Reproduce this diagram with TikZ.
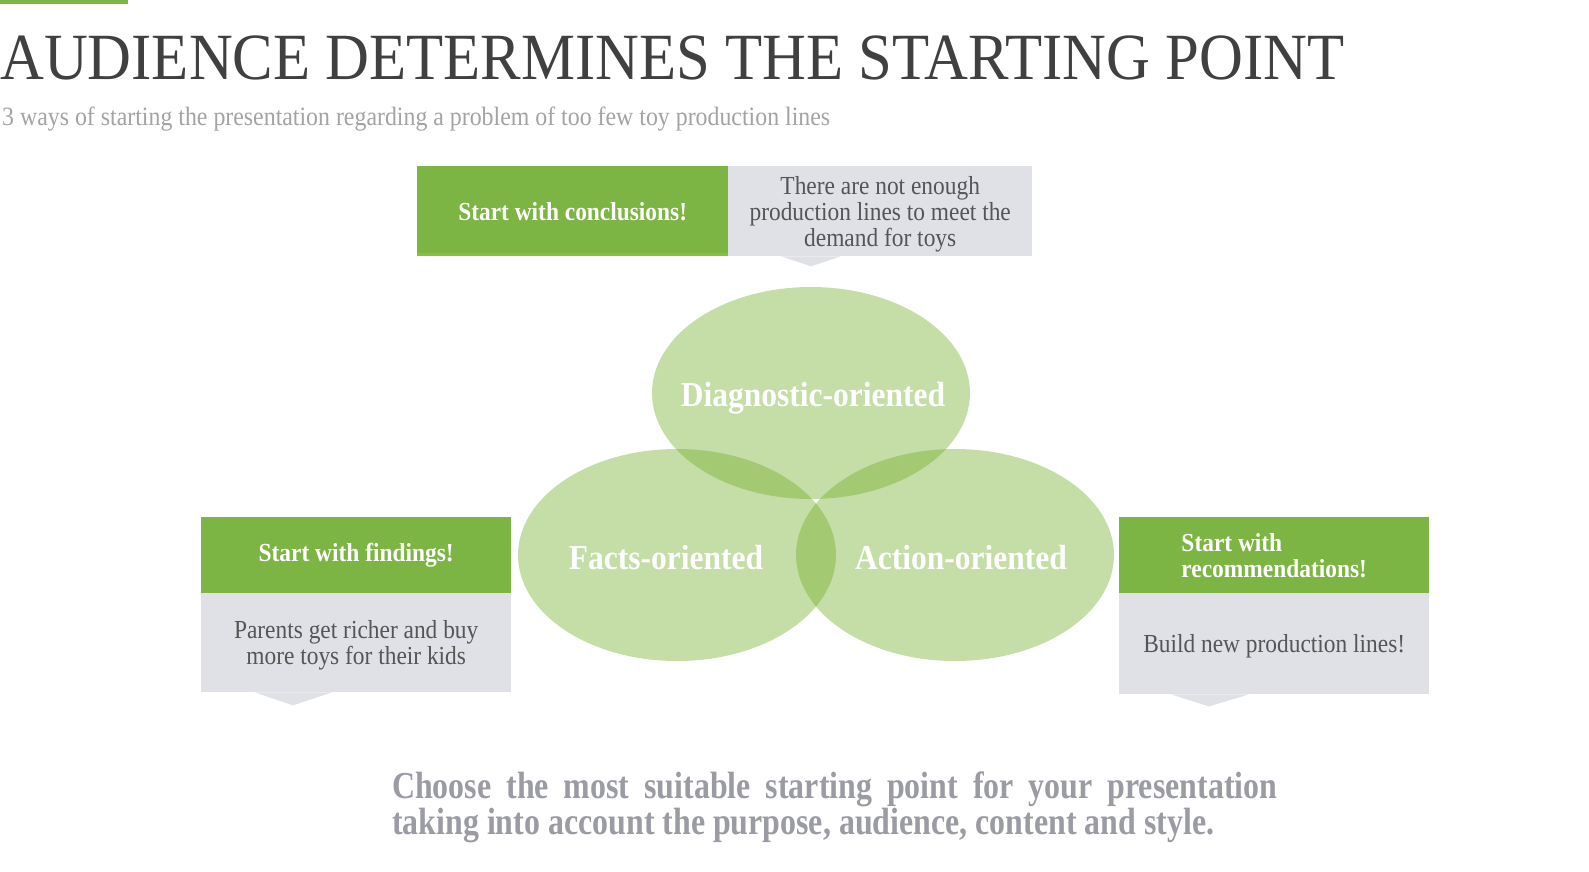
\documentclass[tikz,border=0pt]{standalone}
\usepackage{fontspec}
\setmainfont{Liberation Serif}[FakeStretch=0.9]
\newfontfamily\titlefont{Liberation Serif}[FakeStretch=0.92]
\newfontfamily\notefont{Liberation Serif}[FakeStretch=0.84]
\usetikzlibrary{shapes.geometric,calc}

\definecolor{leaf}{HTML}{7DB544}
\definecolor{leafedge}{HTML}{84C236}
\definecolor{venngreen}{RGB}{116,175,43}
\definecolor{panel}{HTML}{DFE1E7}
\definecolor{titlegray}{HTML}{404040}
\definecolor{subgray}{HTML}{A3A3A3}
\definecolor{bodygray}{HTML}{555555}
\definecolor{notegray}{HTML}{9A9BA3}

\begin{document}
\begin{tikzpicture}[x=1pt,y=-1pt,
  headbox/.style={fill=leaf, text=white, inner sep=0pt, align=center,
    font=\fontsize{26}{26}\selectfont\bfseries},
  bodybox/.style={fill=panel, inner sep=0pt},
  bodytext/.style={text=bodygray, inner sep=0pt, align=center, yshift=-3pt,
    font=\fontsize{26}{26}\selectfont},
  vennset/.style={ellipse, fill=venngreen, fill opacity=0.42, inner sep=0pt,
    minimum width=318, minimum height=212},
  venntext/.style={text=white, inner sep=0pt,
    font=\fontsize{35}{35}\selectfont\bfseries}]
\useasboundingbox (0,0) rectangle (1589,871);

% accent bar and headings
\fill[leaf] (0,0) rectangle (128,4);
\node[anchor=base west, inner sep=0pt, text=titlegray,
  font=\titlefont\fontsize{66}{66}\selectfont] (title) at (0,79)
  {AUDIENCE DETERMINES THE STARTING POINT};
\node[anchor=base west, inner sep=0pt, text=subgray,
  font=\fontsize{26.5}{26.5}\selectfont] (subtitle) at (2,125)
  {3 ways of starting the presentation regarding a problem of too few toy production lines};

% top callout: conclusions
\node[headbox, anchor=north west, minimum width=311, minimum height=90]
  (conhead) at (417,166) {Start with conclusions!};
\draw[leafedge, line width=3pt] ($(conhead.south west)+(0,-1.5)$) -- ($(conhead.south east)+(0,-1.5)$);
\node[bodybox, anchor=north west, minimum width=304, minimum height=90]
  (conbody) at (728,166) {};
\node[bodytext] (context) at (conbody.center)
  {There are not enough\\production lines to meet the\\demand for toys};
\fill[panel] ($(conbody.south west)+(53,0)$) -- ($(conbody.south west)+(113,0)$)
  -- ($(conbody.south west)+(83,10)$) -- cycle;

% three overlapping sets
\node[vennset] (diag) at (811,393) {};
\node[vennset] (facts) at (677,555) {};
\node[vennset] (action) at (955,555) {};
\node[venntext] (diaglabel) at (813,398) {Diagnostic-oriented};
\node[venntext] (factslabel) at (666,558) {Facts-oriented};
\node[venntext] (actionlabel) at (961,558) {Action-oriented};

% left callout: findings
\node[headbox, anchor=north west, minimum width=310, minimum height=76]
  (findhead) at (201,517) {Start with findings!};
\node[bodybox, anchor=north west, minimum width=310, minimum height=99]
  (findbody) at (201,593) {};
\node[bodytext] (findtext) at (findbody.center)
  {Parents get richer and buy\\more toys for their kids};
\fill[panel] ($(findbody.south west)+(54,0)$) -- ($(findbody.south west)+(131,0)$)
  -- ($(findbody.south west)+(92,13)$) -- cycle;

% right callout: recommendations
\node[headbox, anchor=north west, minimum width=310, minimum height=76, align=left]
  (rechead) at (1119,517) {Start with\\recommendations!};
\node[bodybox, anchor=north west, minimum width=310, minimum height=101]
  (recbody) at (1119,593) {};
\node[bodytext] (rectext) at (recbody.center) {Build new production lines!};
\fill[panel] ($(recbody.south west)+(52,0)$) -- ($(recbody.south west)+(130,0)$)
  -- ($(recbody.south west)+(90,12)$) -- cycle;

% closing note: first line spread to full width, second line ragged
\node[anchor=north west, inner sep=0pt, align=left,
  text=notegray, font=\notefont\fontsize{38}{34}\selectfont\bfseries]
  (note) at (392,772)
  {\makebox[885pt][s]{Choose the most suitable starting point for your presentation}\\
   taking into account the purpose, audience, content and style.};
\end{tikzpicture}
\end{document}
